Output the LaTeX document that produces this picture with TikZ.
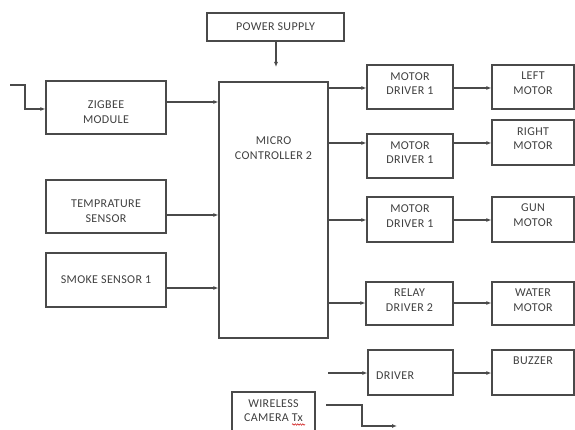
\documentclass[tikz,border=0pt]{standalone}
\usepackage{fontspec}
\setmainfont{Carlito}
\usetikzlibrary{arrows.meta,decorations.pathmorphing}
\definecolor{ln}{HTML}{4A4A4A}
\definecolor{tx}{HTML}{404040}
\tikzset{
  box/.style={draw=ln, line width=1.2pt, inner sep=0pt, fill=white},
  lbl/.style={text=tx, align=center, font=\fontsize{12}{14.5}\selectfont\addfontfeature{LetterSpace=3}, inner sep=0pt},
  arr/.style={draw=ln, line width=1.1pt, -{Latex[length=5pt,width=4pt]}},
  wire/.style={draw=ln, line width=1.1pt}
}
\begin{document}
\begin{tikzpicture}[x=1pt,y=-1pt]
\useasboundingbox (0,0) rectangle (575,430);
\clip (0,0) rectangle (575,430);
% boxes
\node[box, minimum width=137, minimum height=28] (ps) at (275.5,27) {};
\node[lbl] (pst) at (275.5,27) {POWER SUPPLY};
\node[box, minimum width=120, minimum height=53] (zig) at (106,107.5) {};
\node[lbl] (zigt) at (106,112) {ZIGBEE\\MODULE};
\node[box, minimum width=120, minimum height=53] (tmp) at (106,206.5) {};
\node[lbl] (tmpt) at (106,211) {TEMPRATURE\\SENSOR};
\node[box, minimum width=120, minimum height=54] (smk) at (106,280) {};
\node[lbl] (smkt) at (106,280) {SMOKE SENSOR 1};
\node[box, minimum width=109, minimum height=256] (mc) at (273.5,210) {};
\node[lbl] (mct) at (273.5,148) {MICRO\\CONTROLLER 2};
% drivers
\node[box, minimum width=86, minimum height=44] (md1) at (410,87) {};
\node[lbl] (md1t) at (410,83.5) {MOTOR\\DRIVER 1};
\node[box, minimum width=86, minimum height=44] (md2) at (410,156) {};
\node[lbl] (md2t) at (410,152.5) {MOTOR\\DRIVER 1};
\node[box, minimum width=86, minimum height=45] (md3) at (410,219.5) {};
\node[lbl] (md3t) at (410,216) {MOTOR\\DRIVER 1};
\node[box, minimum width=87, minimum height=43] (rd) at (409.5,303.5) {};
\node[lbl] (rdt) at (409.5,300) {RELAY\\DRIVER 2};
\node[box, minimum width=85, minimum height=45] (drv) at (410.5,372.5) {};
\node[lbl, anchor=west] (drvt) at (376,376) {DRIVER};
% outputs
\node[box, minimum width=82, minimum height=44] (lm) at (533,87) {};
\node[lbl] (lmt) at (533,83) {LEFT\\MOTOR};
\node[box, minimum width=82, minimum height=45] (rm) at (533,142.5) {};
\node[lbl] (rmt) at (533,138.5) {RIGHT\\MOTOR};
\node[box, minimum width=82, minimum height=45] (gm) at (533,219.5) {};
\node[lbl] (gmt) at (533,215) {GUN\\MOTOR};
\node[box, minimum width=82, minimum height=43] (wm) at (533,303.5) {};
\node[lbl] (wmt) at (533,300) {WATER\\MOTOR};
\node[box, minimum width=82, minimum height=45] (bz) at (533,372.5) {};
\node[lbl] (bzt) at (533,361) {BUZZER};
% camera
\node[box, minimum width=83, minimum height=56] (cam) at (273.5,420) {};
\node[lbl] (camt) at (273.5,410.5) {WIRELESS\\CAMERA Tx};
\draw[red!80!black, line width=0.5pt, decorate, decoration={snake, amplitude=0.7pt, segment length=2.5pt}] (292,424.5) -- (305,424.5);
% connectors
\coordinate (in0) at (10,85);
\coordinate (in1) at (25,85);
\coordinate (in2) at (25,109);
\draw[arr] (in0) -- (in1) -- (in2) -- (zig.west |- in2);
\coordinate (psend) at (276,67);
\draw[arr] (ps.south -| psend) -- (psend);
\draw[arr] (zig.east |- 0,102) -- (mc.west |- 0,102);
\draw[arr] (tmp.east |- 0,215) -- (mc.west |- 0,215);
\draw[arr] (smk.east |- 0,288) -- (mc.west |- 0,288);
\draw[arr] (mc.east |- 0,88) -- (md1.west |- 0,88);
\draw[arr] (mc.east |- 0,143) -- (md2.west |- 0,143);
\draw[arr] (mc.east |- 0,220) -- (md3.west |- 0,220);
\draw[arr] (mc.east |- 0,303) -- (rd.west |- 0,303);
\draw[arr] (md1.east |- 0,88) -- (lm.west |- 0,88);
\draw[arr] (md2.east |- 0,143) -- (rm.west |- 0,143);
\draw[arr] (md3.east |- 0,220) -- (gm.west |- 0,220);
\draw[arr] (rd.east |- 0,303) -- (wm.west |- 0,303);
\coordinate (d0) at (328,373);
\draw[arr] (d0) -- (drv.west |- d0);
\draw[arr] (drv.east |- 0,373) -- (bz.west |- 0,373);
\coordinate (c0) at (326,405);
\coordinate (c1) at (362,405);
\coordinate (c2) at (362,426);
\coordinate (c3) at (397,426);
\draw[arr] (c0) -- (c1) -- (c2) -- (c3);
\end{tikzpicture}
\end{document}
